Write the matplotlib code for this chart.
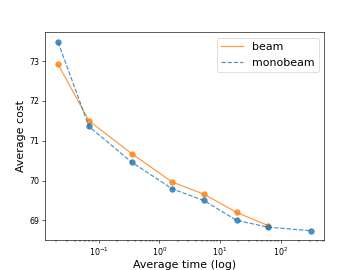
import numpy as np
import matplotlib
matplotlib.use('Agg')
import matplotlib.pyplot as plt

beam_time = [0.0214, 0.069, 0.35, 1.64, 5.39, 18.8, 61.7]
beam_cost = [72.92, 71.50, 70.675, 69.96, 69.66, 69.20, 68.87]
mono_time = [0.0214, 0.069, 0.35, 1.64, 5.39, 18.8, 61.7, 316]
mono_cost = [73.475, 71.36, 70.46, 69.79, 69.50, 69.00, 68.83, 68.74]

fig, ax = plt.subplots(figsize=(6.4, 4.8), dpi=56.25)
ax.plot(beam_time, beam_cost, '-', color='#ff7f0e', alpha=0.8, lw=1.5, label='beam')
ax.plot(beam_time, beam_cost, 'o', color='#ff7f0e', alpha=0.8, ms=7)
ax.plot(mono_time, mono_cost, '--', color='#1f77b4', alpha=0.8, lw=1.5, label='monobeam')
ax.plot(mono_time, mono_cost, 'o', color='#1f77b4', alpha=0.8, ms=7)
ax.set_xscale('log')
ax.set_xlim(10**-1.885, 10**2.713)
ax.set_ylim(68.5, 73.72)
ax.set_yticks([69, 70, 71, 72, 73])
ax.set_xlabel('Average time (log)', fontsize=14, labelpad=2)
ax.set_ylabel('Average cost', fontsize=14)
ax.legend(loc='upper right', fontsize=14)
plt.savefig('out.png', dpi=56.25)
